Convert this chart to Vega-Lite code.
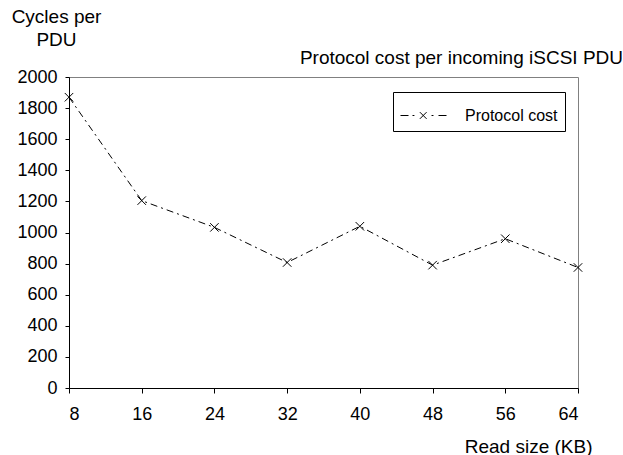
{
  "$schema": "https://vega.github.io/schema/vega-lite/v6.json",
  "width": 509,
  "height": 311,
  "autosize": {"type": "none"},
  "padding": {"left": 69, "top": 77, "right": 45, "bottom": 67},
  "background": "white",
  "config": {
    "font": "Liberation Sans",
    "view": {"stroke": "#808080", "strokeWidth": 1},
    "axis": {
      "grid": false,
      "domainColor": "black",
      "tickColor": "black",
      "labelColor": "black",
      "titleColor": "black",
      "labelFont": "Liberation Sans",
      "titleFont": "Liberation Sans",
      "labelFontSize": 18,
      "titleFontSize": 19,
      "titleFontWeight": "normal"
    }
  },
  "title": {
    "text": "Protocol cost per incoming iSCSI PDU",
    "anchor": "end",
    "dx": 31,
    "dy": 76,
    "offset": 0,
    "baseline": "alphabetic",
    "fontSize": 19,
    "fontWeight": "normal",
    "font": "Liberation Sans",
    "color": "black"
  },
  "data": {
    "values": [
      {"size": 8, "cost": 1870, "series": "Protocol cost"},
      {"size": 16, "cost": 1205, "series": "Protocol cost"},
      {"size": 24, "cost": 1033, "series": "Protocol cost"},
      {"size": 32, "cost": 807, "series": "Protocol cost"},
      {"size": 40, "cost": 1040, "series": "Protocol cost"},
      {"size": 48, "cost": 790, "series": "Protocol cost"},
      {"size": 56, "cost": 960, "series": "Protocol cost"},
      {"size": 64, "cost": 775, "series": "Protocol cost"}
    ]
  },
  "encoding": {
    "x": {
      "field": "size",
      "type": "quantitative",
      "scale": {"domain": [8, 64], "nice": false, "zero": false},
      "axis": {
        "values": [8, 16, 24, 32, 40, 48, 56, 64],
        "format": "d",
        "tickSize": 5,
        "labelPadding": 12,
        "title": "Read size (KB)",
        "titleAnchor": "end",
        "titleAlign": "right",
        "titleX": 523,
        "titleY": 64,
        "titleBaseline": "alphabetic"
      }
    },
    "y": {
      "field": "cost",
      "type": "quantitative",
      "scale": {"domain": [0, 2000], "nice": false},
      "axis": {
        "values": [0, 200, 400, 600, 800, 1000, 1200, 1400, 1600, 1800, 2000],
        "format": "d",
        "tickSize": 4,
        "labelPadding": 8,
        "title": ["Cycles per", "PDU"],
        "titleAngle": 0,
        "titleAlign": "center",
        "titleBaseline": "top",
        "titleX": -13,
        "titleY": -70,
        "titleLineHeight": 23
      }
    }
  },
  "layer": [
    {
      "mark": {"type": "line", "color": "black", "strokeWidth": 1, "strokeDash": [7, 4, 2, 4]},
      "encoding": {}
    },
    {
      "mark": {
        "type": "point",
        "shape": "M-1,-1L1,1M1,-1L-1,1",
        "filled": false,
        "strokeWidth": 1,
        "size": 72,
        "opacity": 1
      },
      "encoding": {
        "stroke": {
          "field": "series",
          "type": "nominal",
          "scale": {"range": ["black"]},
          "legend": {
            "title": null,
            "orient": "none",
            "legendX": 324,
            "legendY": 15,
            "padding": 7,
            "strokeColor": "black",
            "fillColor": "white",
            "symbolType": "M-1,0H-0.5M-0.25,0H-0.13M0.21,-0.21L0.63,0.21M0.21,0.21L0.63,-0.21M0.94,0H1.06M1.375,0H1.875",
            "symbolSize": 1024,
            "symbolStrokeWidth": 1,
            "symbolStrokeColor": "black",
            "symbolFillColor": "transparent",
            "symbolOpacity": 1,
            "labelOffset": 32,
            "labelFontSize": 16,
            "labelFont": "Liberation Sans",
            "labelColor": "black"
          }
        }
      }
    }
  ]
}
